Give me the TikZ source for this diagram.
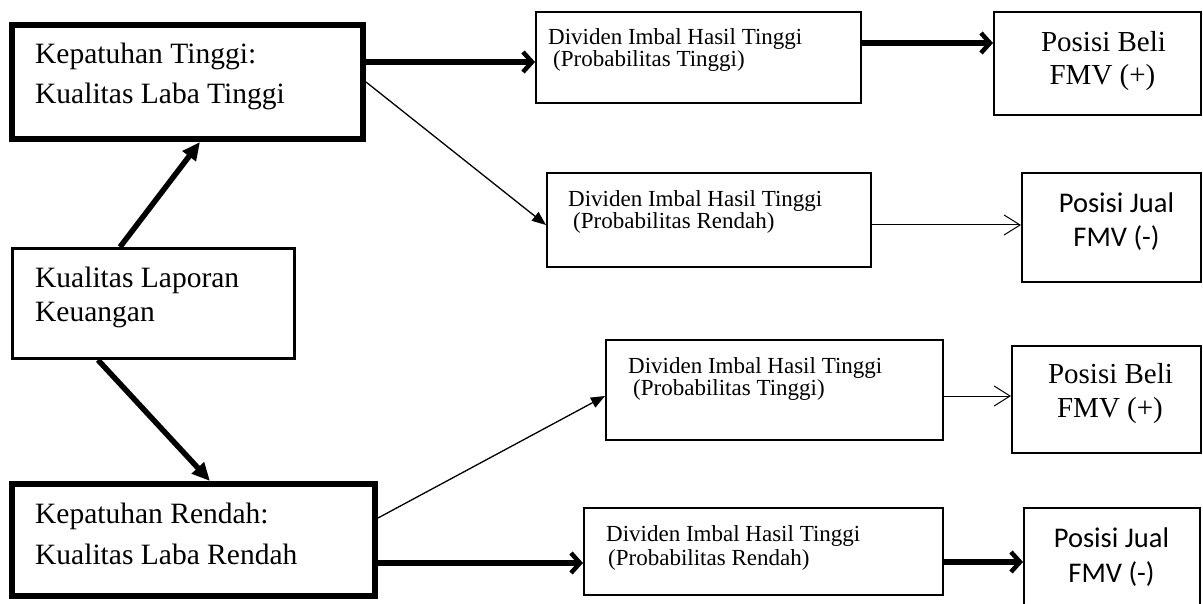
\documentclass[tikz,border=0pt]{standalone}
\usepackage{fontspec}
\setmainfont{Liberation Serif}
\newfontfamily\camfont{Liberation Serif}
\newfontfamily\calfont{Carlito}
\usetikzlibrary{arrows.meta}
\tikzset{
  boxthick/.style={draw, rectangle, inner sep=0pt, line width=6pt},
  boxmid/.style={draw, rectangle, inner sep=0pt, line width=3pt},
  boxthin/.style={draw, rectangle, inner sep=0pt, line width=2pt},
  bigtxt/.style={font=\camfont\fontsize{29.5}{31}\selectfont, inner sep=0pt, anchor=base west},
  divtxt/.style={font=\camfont\fontsize{23}{25}\selectfont, inner sep=0pt, anchor=base west},
  belitxt/.style={font=\camfont\fontsize{29}{31}\selectfont, inner sep=0pt, anchor=base},
  jualtxt/.style={font=\calfont\fontsize{28.5}{31}\selectfont, inner sep=0pt, anchor=base},
  thickarrow/.style={line width=5.5pt, -{Straight Barb[length=9pt,width=20pt,line width=4.5pt]}},
  thickup/.style={line width=5.5pt, -{Triangle[length=18pt,width=16pt]}},
  thinfill/.style={line width=1.3pt, -{Triangle[length=14pt,width=11pt]}},
  thinopen/.style={line width=1pt, -{Straight Barb[length=16pt,width=20pt,line width=1pt]}},
}
\begin{document}
\begin{tikzpicture}[x=1pt,y=-1pt]
\useasboundingbox (0,0) rectangle (1203,604);
% boxes
\node[boxthick, minimum width=351.5pt, minimum height=114pt] (A) at (187.25,82) {};
\node[boxmid, minimum width=282pt, minimum height=110pt] (K) at (153,303.5) {};
\node[boxthick, minimum width=363.5pt, minimum height=111.5pt] (R) at (193.25,539.75) {};
\node[boxthin, minimum width=325pt, minimum height=91pt] (D1) at (698.5,57.5) {};
\node[boxthin, minimum width=324pt, minimum height=94pt] (D2) at (709,220) {};
\node[boxthin, minimum width=337pt, minimum height=100pt] (D3) at (774.5,390) {};
\node[boxthin, minimum width=359pt, minimum height=87pt] (D4) at (763.5,551.5) {};
\node[boxthin, minimum width=207pt, minimum height=103pt] (P1) at (1097.5,63.5) {};
\node[boxthin, minimum width=179pt, minimum height=109pt] (P2) at (1111.5,227.5) {};
\node[boxthin, minimum width=189pt, minimum height=107pt] (P3) at (1106.5,399.5) {};
\node[boxthin, minimum width=176pt, minimum height=102pt] (P4) at (1112,559) {};
% texts
\node[bigtxt] (A1) at (35,64) {Kepatuhan Tinggi:};
\node[bigtxt] (A2) at (35,104) {Kualitas Laba Tinggi};
\node[bigtxt] (K1) at (35,288) {Kualitas Laporan};
\node[bigtxt] (K2) at (35,322) {Keuangan};
\node[bigtxt] (R1) at (35,523) {Kepatuhan Rendah:};
\node[bigtxt] (R2) at (35,564) {Kualitas Laba Rendah};
\node[divtxt] (D1a) at (548,45) {Dividen Imbal Hasil Tinggi};
\node[divtxt] (D1b) at (553,67) {(Probabilitas Tinggi)};
\node[divtxt] (D2a) at (568,207) {Dividen Imbal Hasil Tinggi};
\node[divtxt] (D2b) at (573,229) {(Probabilitas Rendah)};
\node[divtxt] (D3a) at (628,373) {Dividen Imbal Hasil Tinggi};
\node[divtxt] (D3b) at (633,395) {(Probabilitas Tinggi)};
\node[divtxt] (D4a) at (606,541) {Dividen Imbal Hasil Tinggi};
\node[divtxt] (D4b) at (608,565) {(Probabilitas Rendah)};
\node[belitxt] (P1a) at (1103.5,52) {Posisi Beli};
\node[belitxt] (P1b) at (1102.5,85) {FMV (+)};
\node[jualtxt] (P2a) at (1116.5,213) {Posisi Jual};
\node[jualtxt] (P2b) at (1116.5,247) {FMV (-)};
\node[belitxt] (P3a) at (1110.5,383) {Posisi Beli};
\node[belitxt] (P3b) at (1110,417) {FMV (+)};
\node[jualtxt] (P4a) at (1111.5,547) {Posisi Jual};
\node[jualtxt] (P4b) at (1111.5,582) {FMV (-)};
% connectors
\draw[thickup] ([xshift=-33pt]K.north) -- ([xshift=12.75pt]A.south);
\draw[thickup] ([xshift=-55pt]K.south) -- ([xshift=16.75pt]R.north);
\draw[thickarrow] ([yshift=20pt]A.east) -- ([yshift=-4.5pt]D1.west);
\draw[thickarrow] ([yshift=14.5pt]D1.east) -- ([yshift=20.5pt]P1.west);
\draw[thinfill] (A.east) -- ([yshift=-5pt]D2.west);
\draw[thinopen] ([yshift=-5pt]D2.east) -- ([yshift=2.5pt]P2.west);
\draw[thinfill] ([yshift=21.75pt]R.east) -- ([yshift=-6pt]D3.west);
\draw[thinopen] ([yshift=-6pt]D3.east) -- ([yshift=3.5pt]P3.west);
\draw[thickarrow] ([yshift=-23.25pt]R.east) -- ([yshift=-11.5pt]D4.west);
\draw[thickarrow] ([yshift=-10.5pt]D4.east) -- ([yshift=-3pt]P4.west);
\end{tikzpicture}
\end{document}
